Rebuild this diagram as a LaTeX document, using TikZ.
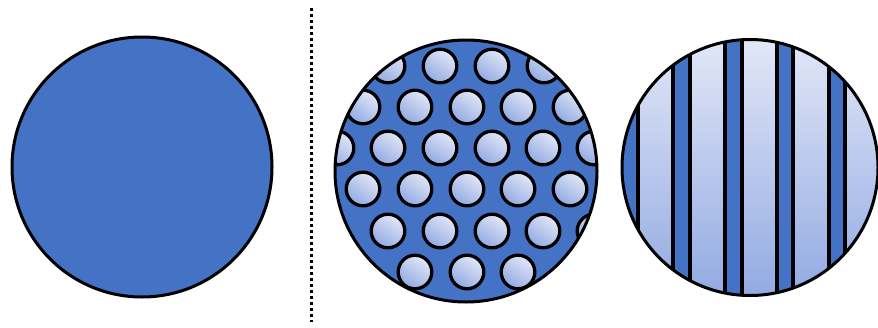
\documentclass[tikz,border=0pt]{standalone}
\usetikzlibrary{shadings}
\definecolor{darkblue}{RGB}{68,114,196}
\definecolor{lighttop}{RGB}{226,231,247}
\definecolor{lightbot}{RGB}{146,170,226}
\tikzset{
  outline/.style={draw=black,line width=3pt},
  dot/.style={outline,line width=3.3pt,top color=lighttop,bottom color=lightbot,shading angle=-35},
  stripe/.style={outline,line width=3.2pt,fill=darkblue},
}
\begin{document}
\begin{tikzpicture}[x=1pt,y=-1pt]
\useasboundingbox (0,0) rectangle (878,327);
% left solid disc
\fill[darkblue] (142,167) circle[radius=130pt];
\draw[outline] (142,167) circle[radius=130pt];
% dotted separator
\coordinate (sepA) at (311,8);
\coordinate (sepB) at (311,322);
\draw[line width=3pt,dash pattern=on 3pt off 3pt] (sepA) -- (sepB);
% middle disc with holes
\begin{scope}
  \clip (466,171) circle[radius=131pt];
  \fill[darkblue] (466,171) circle[radius=131pt];
  \foreach \x/\y in {388/66,440/66,492/66,544/66,
                     363/107,415/107,467/107,518/107,570/107,
                     337/148,388/148,440/148,492/148,543/148,594/148,
                     363/189,415/189,467/189,518/189,570/189,
                     388/231,440/231,492/231,543/231,594/231,
                     415/272,467/272,518/272}
    \shade[dot] (\x,\y) circle[radius=16.8pt];
\end{scope}
\draw[outline] (466,171) circle[radius=131pt];
% right disc with stripes
\begin{scope}
  \clip (750,167.5) circle[radius=128pt];
  \shade[top color=lighttop,bottom color=lightbot] (620,39) rectangle (880,296);
  \foreach \a/\b in {621/638,673/690,725/742,777/793,829/845}
    \draw[stripe] (\a,20) rectangle (\b,315);
\end{scope}
\draw[outline] (750,167.5) circle[radius=128pt];
\end{tikzpicture}
\end{document}
